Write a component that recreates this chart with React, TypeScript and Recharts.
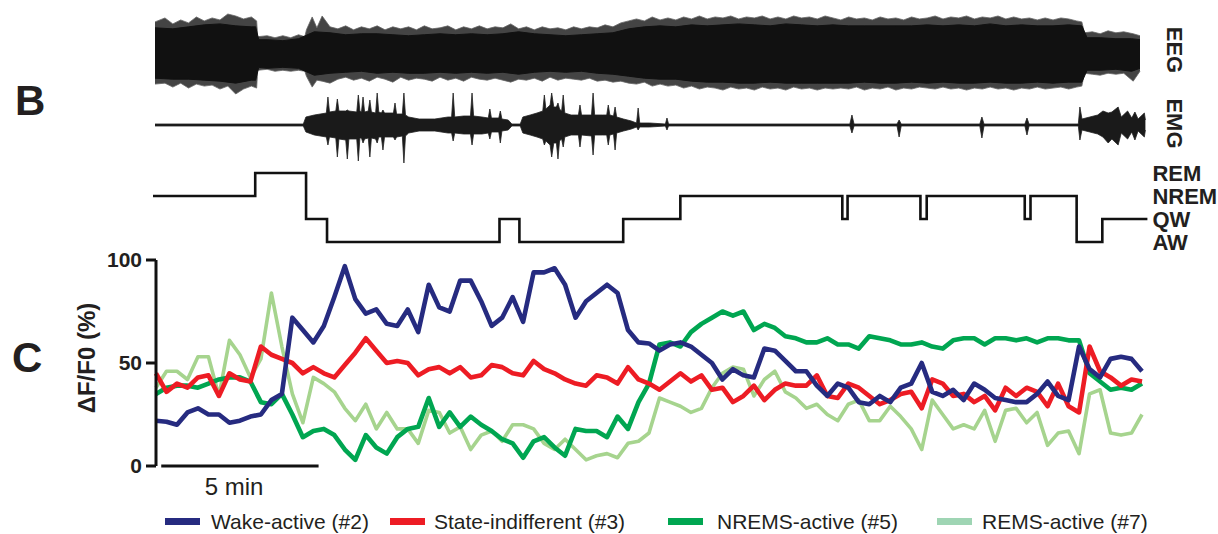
import React from 'react';
import { LineChart, ComposedChart, Line, Area, XAxis, YAxis, ReferenceLine } from 'recharts';

// ---------- DATA ----------
// Panel C: time in seconds (20 s bins), ΔF/F0 (%)
const timeSec = [
  0, 20, 40, 60, 80, 100, 120, 140, 160, 180,
  200, 220, 240, 260, 280, 300, 320, 340, 360, 380,
  400, 420, 440, 460, 480, 500, 520, 540, 560, 580,
  600, 620, 640, 660, 680, 700, 720, 740, 760, 780,
  800, 820, 840, 860, 880, 900, 920, 940, 960, 980,
  1000, 1020, 1040, 1060, 1080, 1100, 1120, 1140, 1160, 1180,
  1200, 1220, 1240, 1260, 1280, 1300, 1320, 1340, 1360, 1380,
  1400, 1420, 1440, 1460, 1480, 1500, 1520, 1540, 1560, 1580,
  1600, 1620, 1640, 1660, 1680, 1700, 1720, 1740, 1760, 1780,
  1800, 1820, 1840, 1860, 1880,
];
const wakeActive = [
  22, 21.5, 20, 26, 28, 25, 25, 21, 22, 24,
  25, 32, 35, 72, 66, 60, 68, 82, 97, 81,
  74, 76, 69, 68, 76, 65, 88, 77, 75, 90,
  90, 80, 68, 72, 82, 70, 94, 94, 96, 88,
  72, 80, 84, 88, 84, 66, 60, 59.5, 56, 59,
  60, 58, 54, 50, 42, 47, 44, 43, 57, 56,
  51, 46, 46, 39, 34, 40, 38, 31, 30, 34,
  31, 38, 40, 50, 36, 34, 37, 32, 40, 37,
  33, 32, 31, 31, 35, 41, 34, 32, 58, 47,
  43, 52, 53, 52, 46,
];
const stateIndifferent = [
  45, 36, 40, 38, 43, 44, 34, 45, 42, 41,
  58, 54, 52, 50, 45, 48, 45, 43, 49, 55,
  62, 56, 50, 51, 50, 44, 47, 48, 45, 48,
  43, 44, 49, 48, 45, 44, 51, 47, 45, 42,
  40, 39, 44, 43, 40, 48, 42, 40, 37, 41,
  45, 41, 44, 37, 38, 31, 34, 39, 32, 37,
  40, 39, 39, 44, 34, 33, 40, 38, 34, 30,
  32, 35, 36, 28, 42, 40, 34, 35, 31, 34,
  27, 38, 34, 38, 36, 29, 40, 29, 26, 58,
  46, 43, 39, 42, 41,
];
const nremsActive = [
  35, 38, 39, 39, 38, 40, 42, 43, 43, 41,
  31, 30, 35, 25, 14, 17, 18, 15, 8, 3,
  15, 9, 6, 14, 18, 19, 33, 19, 26, 19,
  24, 20, 17, 13, 11, 4, 12, 14, 9, 5,
  18, 17, 17, 14, 24, 18, 31, 40, 59, 60,
  58, 65, 69, 72, 75, 73, 75, 66, 69, 67,
  63, 62, 60, 60, 62, 59, 59, 57, 63, 62,
  61, 59, 59, 60, 58, 57, 61, 62, 62, 59,
  62, 62, 61, 62, 60, 62, 62, 61, 61, 45,
  41, 37, 38, 37, 40,
];
const remsActive = [
  38, 46, 46, 42, 53, 53, 34, 61, 54, 43,
  52, 84, 58, 35, 21, 43, 40, 36, 28, 22,
  30, 18, 26, 18, 18, 11, 27, 26, 16, 19,
  8, 15, 17, 12, 20, 20, 18, 11, 8, 13,
  8, 3, 5, 6, 4, 11, 12, 16, 33, 31,
  29, 26, 28, 38, 45, 48, 47, 34, 42, 46,
  36, 33, 28, 30, 25, 22, 30, 32, 22, 22,
  29, 24, 18, 8, 32, 25, 18, 20, 18, 27,
  12, 27, 28, 21, 26, 10, 16, 17, 6, 35,
  37, 16, 15, 16, 25,
];
const yTicks = [0, 50, 100];
const scaleBarSec = [10, 310];
const scaleBarLabel = '5 min';

const seriesKeys = ['rems', 'nrems', 'indiff', 'wake'];
const seriesNames = ['Wake-active (#2)', 'State-indifferent (#3)', 'NREMS-active (#5)', 'REMS-active (#7)'];
const seriesNameByKey: Record<string, string> = {
  wake: 'Wake-active (#2)',
  indiff: 'State-indifferent (#3)',
  nrems: 'NREMS-active (#5)',
  rems: 'REMS-active (#7)',
};

// Panel B: EEG dense core envelope (arbitrary units)
const eegTime = [
  -4, 30, 60, 90, 120, 150, 180, 188, 194, 210, 240, 270, 300, 330, 360, 390, 420, 450, 480, 510,
  540, 570, 600, 630, 660, 690, 720, 750, 780, 810, 840, 870, 900, 930, 960, 990, 1020, 1050, 1080, 1110,
  1140, 1170, 1200, 1230, 1260, 1290, 1320, 1350, 1380, 1410, 1440, 1470, 1500, 1530, 1560, 1590, 1620, 1650, 1680, 1710,
  1740, 1765, 1775, 1800, 1830, 1860, 1876,
];
const eegHigh = [
  26, 25, 27, 29, 30, 28, 27, 27, 14, 14, 13, 15, 22, 21, 19, 20, 20, 19, 18, 19,
  20, 19, 20, 19, 20, 22, 20, 19, 18, 19, 20, 21, 25, 27, 28, 27, 29, 28, 29, 30,
  29, 28, 30, 29, 28, 29, 28, 28, 28, 28, 28, 29, 28, 29, 28, 30, 28, 29, 28, 28,
  29, 28, 16, 16, 15, 15, 14,
];
const eegLow = [
  -25, -26, -26, -27, -28, -30, -27, -27, -14, -15, -14, -15, -22, -20, -19, -18, -20, -19, -20, -20,
  -19, -20, -19, -20, -19, -21, -19, -18, -19, -18, -20, -21, -23, -25, -26, -26, -28, -29, -29, -30,
  -30, -29, -30, -30, -30, -30, -30, -29, -30, -30, -29, -30, -29, -30, -30, -29, -30, -30, -29, -30,
  -29, -29, -17, -17, -16, -18, -15,
];
// Panel B: EEG spike extent (arbitrary units)
const eegSpikeTime = [
  -4, 15, 30, 45, 60, 75, 90, 105, 120, 135, 150, 165, 180, 190, 192, 210, 225, 240, 255, 270,
  282, 285, 296, 305, 315, 330, 345, 360, 375, 390, 405, 420, 435, 450, 465, 480, 495, 510, 525, 540,
  555, 570, 585, 600, 615, 630, 645, 660, 675, 690, 705, 720, 735, 750, 765, 780, 795, 810, 825, 840,
  855, 870, 885, 900, 915, 930, 945, 960, 975, 990, 1005, 1020, 1035, 1050, 1065, 1080, 1095, 1110, 1125, 1140,
  1155, 1170, 1185, 1200, 1215, 1230, 1245, 1260, 1275, 1290, 1305, 1320, 1335, 1350, 1365, 1380, 1395, 1410, 1425, 1440,
  1455, 1470, 1485, 1500, 1515, 1530, 1545, 1560, 1575, 1590, 1605, 1620, 1635, 1650, 1665, 1680, 1695, 1710, 1725, 1740,
  1755, 1765, 1770, 1785, 1800, 1815, 1830, 1845, 1863, 1876,
];
const eegSpikeHigh = [
  32, 36, 30, 34, 31, 37, 33, 36, 34, 40, 38, 35, 37, 33, 17, 18, 16, 18, 16, 19,
  17, 24, 37, 26, 38, 27, 25, 28, 24, 27, 25, 28, 24, 27, 25, 27, 24, 28, 25, 26,
  28, 24, 27, 25, 28, 25, 27, 26, 30, 25, 27, 24, 27, 25, 26, 24, 27, 25, 27, 26,
  29, 27, 31, 33, 35, 33, 37, 34, 36, 34, 37, 35, 38, 35, 37, 36, 38, 35, 37, 36,
  38, 35, 37, 35, 38, 36, 37, 35, 38, 36, 34, 37, 35, 36, 34, 37, 35, 36, 34, 37,
  35, 36, 38, 35, 37, 36, 38, 35, 37, 36, 38, 35, 37, 35, 36, 34, 36, 34, 36, 35,
  33, 32, 21, 22, 20, 23, 21, 22, 20, 18,
];
const eegSpikeLow = [
  -31, -30, -34, -30, -35, -31, -33, -32, -36, -33, -41, -36, -33, -35, -17, -16, -18, -17, -18, -17,
  -18, -23, -34, -27, -28, -30, -26, -24, -27, -25, -28, -24, -26, -29, -24, -27, -25, -26, -28, -24,
  -27, -25, -28, -24, -26, -27, -25, -27, -29, -26, -27, -25, -28, -24, -27, -25, -26, -27, -25, -28,
  -27, -29, -28, -30, -31, -29, -33, -31, -33, -32, -35, -33, -36, -34, -35, -37, -34, -36, -35, -37,
  -34, -36, -35, -37, -34, -36, -35, -37, -35, -36, -35, -36, -34, -37, -35, -36, -34, -37, -35, -36,
  -34, -35, -36, -34, -36, -35, -37, -35, -36, -34, -36, -35, -37, -35, -36, -34, -36, -35, -34, -36,
  -34, -33, -20, -21, -22, -20, -21, -20, -28, -18,
];

// Panel B: EMG envelope (arbitrary units)
const emgTime = [
  -4, 279, 284, 300, 323, 326, 329, 341, 344, 347, 360, 363, 366, 381, 384, 387, 390, 393, 396, 403,
  406, 409, 417, 420, 423, 428, 431, 434, 451, 454, 457, 468, 471, 474, 480, 500, 530, 555, 562, 565,
  568, 585, 598, 601, 604, 620, 632, 635, 638, 652, 655, 658, 670, 677, 693, 698, 712, 725, 736, 739,
  742, 750, 753, 757, 762, 765, 768, 772, 775, 778, 790, 804, 807, 810, 829, 832, 835, 850, 858, 861,
  864, 871, 874, 877, 890, 905, 915, 918, 921, 940, 970, 973, 976, 990, 1322, 1326, 1330, 1412, 1416, 1420,
  1570, 1574, 1578, 1656, 1660, 1664, 1758, 1761, 1765, 1780, 1795, 1805, 1815, 1822, 1834, 1840, 1852, 1860, 1866, 1872,
  1884, 1886,
];
const emgHigh = [
  1, 1, 8, 10, 12, 28, 13, 14, 26, 14, 14, 15, 14, 13, 30, 14, 13, 28, 13, 14,
  25, 13, 12, 32, 13, 12, 15, 12, 12, 22, 11, 11, 32, 10, 8, 6, 6, 8, 8, 32,
  8, 9, 9, 32, 9, 8, 7, 16, 7, 7, 14, 6, 5, 1, 1, 8, 10, 12, 14, 30,
  16, 20, 32, 18, 18, 22, 16, 14, 30, 12, 10, 10, 20, 10, 10, 32, 10, 10, 10, 20,
  10, 9, 18, 8, 6, 4, 2, 17, 2, 2, 1, 7, 1, 1, 1, 10, 1, 1, 5, 1,
  1, 8, 1, 1, 7, 1, 1, 18, 6, 8, 10, 14, 12, 13, 18, 8, 14, 7, 13, 6,
  12, 5,
];
const emgLow = [
  -1, -1, -7, -10, -12, -20, -12, -13, -32, -14, -15, -34, -14, -14, -36, -13, -13, -18, -14, -13,
  -32, -13, -14, -18, -12, -12, -25, -12, -12, -15, -12, -11, -38, -11, -8, -6, -6, -8, -8, -16,
  -8, -9, -9, -20, -9, -9, -8, -14, -7, -7, -18, -6, -5, -1, -1, -8, -10, -12, -14, -20,
  -16, -20, -32, -18, -18, -34, -16, -14, -22, -12, -10, -10, -22, -10, -11, -30, -10, -10, -10, -20,
  -10, -9, -25, -8, -6, -4, -2, -5, -2, -2, -1, -5, -1, -1, -1, -8, -1, -1, -12, -1,
  -1, -13, -1, -1, -10, -1, -1, -15, -5, -7, -9, -12, -18, -14, -20, -8, -14, -7, -15, -6,
  -12, -5,
];

// Hypnogram: 0 = AW, 1 = QW, 2 = NREM, 3 = REM
const hypTime = [-8, 187, 284, 324, 653, 691, 889, 998, 1307, 1317, 1456, 1468, 1655, 1666, 1754, 1803, 1889];
const hypState = [2, 3, 1, 0, 1, 0, 1, 2, 1, 2, 1, 2, 1, 2, 0, 1, 1];
const stateLabels = ['AW', 'QW', 'NREM', 'REM'];

// ---------- STYLE / LAYOUT ----------
const FONT = '"Liberation Sans", Arial, Helvetica, sans-serif';
const INK = '#231f20';
const colors: Record<string, string> = {
  wake: '#262b80',
  indiff: '#ed1c24',
  nrems: '#00a651',
  rems: '#a6d48e',
};
const legendColors = ['#262b80', '#ed1c24', '#00a651', '#9fd5b4'];
const legendSwatchX = [165, 390, 668, 937];
const legendTextX = [211, 434, 717, 982];
const W = 1218;
const H = 534;

const mainData = timeSec.map((t, i) => ({
  t,
  wake: wakeActive[i],
  indiff: stateIndifferent[i],
  nrems: nremsActive[i],
  rems: remsActive[i],
}));
const eegCoreData = eegTime.map((t, i) => ({ t, core: [eegLow[i], eegHigh[i]] }));
const eegSpikeData = eegSpikeTime.map((t, i) => ({ t, spike: [eegSpikeLow[i], eegSpikeHigh[i]] }));
const emgData = emgTime.map((t, i) => ({ t, v: [emgLow[i], emgHigh[i]] }));
const hypData = hypTime.map((t, i) => ({ t, s: hypState[i] }));

const layer: React.CSSProperties = { position: 'absolute', left: 0, top: 0 };

export default function App() {
  return (
    <div style={{ position: 'absolute', left: 0, top: 0, width: W, height: H, background: '#fff', fontFamily: FONT }}>
      {/* EEG */}
      <div style={layer}>
        <ComposedChart width={W} height={H} margin={{ top: 14, bottom: H - 94, left: 155, right: 78 }}>
          <XAxis dataKey="t" type="number" domain={[-4, 1876]} hide />
          <YAxis type="number" domain={[-40, 40]} hide />
          <Area data={eegSpikeData} type="linear" dataKey="spike" stroke="#666" strokeWidth={0.8} fill="#444" fillOpacity={1} dot={false} activeDot={false} isAnimationActive={false} />
          <Area data={eegCoreData} type="linear" dataKey="core" stroke="#111" strokeWidth={1} fill="#111" fillOpacity={1} dot={false} activeDot={false} isAnimationActive={false} />
        </ComposedChart>
      </div>
      {/* EMG */}
      <div style={layer}>
        <ComposedChart width={W} height={H} data={emgData} margin={{ top: 85, bottom: H - 165, left: 155, right: 72.6 }}>
          <XAxis dataKey="t" type="number" domain={[-4, 1886]} hide />
          <YAxis type="number" domain={[-40, 40]} hide />
          <Area type="linear" dataKey="v" stroke="#222" strokeWidth={0.8} fill="#1a1a1a" fillOpacity={1} dot={false} activeDot={false} isAnimationActive={false} />
        </ComposedChart>
      </div>
      {/* Hypnogram */}
      <div style={layer}>
        <LineChart width={W} height={H} data={hypData} margin={{ top: 173, bottom: H - 242, left: 153, right: 0.6 }}>
          <XAxis dataKey="t" type="number" domain={[-8, 1889]} hide />
          <YAxis
            orientation="right"
            type="number"
            domain={[0, 3]}
            ticks={[0, 1, 2, 3]}
            interval={0}
            width={70}
            axisLine={false}
            tickLine={false}
            tickSize={0}
            tickMargin={5}
            tickFormatter={(v: number) => stateLabels[v]}
            tick={{ fontSize: 22, fontWeight: 700, fill: INK, fontFamily: FONT }}
          />
          <Line type="stepAfter" dataKey="s" stroke="#111" strokeWidth={2.6} dot={false} activeDot={false} isAnimationActive={false} />
        </LineChart>
      </div>
      {/* Panel C */}
      <div style={layer}>
        <LineChart width={W} height={H} data={mainData} margin={{ top: 260, bottom: H - 466, left: 96, right: 76 }}>
          <XAxis dataKey="t" type="number" domain={[0, 1880]} hide />
          <YAxis
            type="number"
            domain={[0, 100]}
            ticks={yTicks}
            interval={0}
            width={60}
            axisLine={{ stroke: '#111', strokeWidth: 3 }}
            tickLine={{ stroke: '#111', strokeWidth: 3 }}
            tickSize={10}
            tickMargin={4}
            tick={{ fontSize: 21, fontWeight: 700, fill: INK, fontFamily: FONT }}
          />
          <ReferenceLine
            segment={[{ x: scaleBarSec[0], y: 0 }, { x: scaleBarSec[1], y: 0 }]}
            stroke="#111"
            strokeWidth={3}
            ifOverflow="visible"
          />
          {seriesKeys.map((k) => (
            <Line
              key={k}
              type="linear"
              dataKey={k}
              name={seriesNameByKey[k]}
              stroke={colors[k]}
              strokeWidth={k === 'rems' ? 3.6 : 4.6}
              strokeLinejoin="round"
              dot={false}
              activeDot={false}
              isAnimationActive={false}
            />
          ))}
        </LineChart>
      </div>
      {/* Text overlay */}
      <svg width={W} height={H} style={{ ...layer, pointerEvents: 'none' }}>
        <g fontFamily={FONT} fill={INK}>
          <text x={15} y={115} fontSize={42} fontWeight={700}>B</text>
          <text x={12} y={372} fontSize={42} fontWeight={700}>C</text>
          <text x={86} y={358} fontSize={24} fontWeight={700} textAnchor="middle" dominantBaseline="central" transform="rotate(-90 86 358)">ΔF/F0 (%)</text>
          <text x={1174} y={50} fontSize={22} fontWeight={700} textAnchor="middle" dominantBaseline="central" transform="rotate(90 1174 50)">EEG</text>
          <text x={1174} y={123.5} fontSize={22} fontWeight={700} textAnchor="middle" dominantBaseline="central" transform="rotate(90 1174 123.5)">EMG</text>
          <text x={234} y={495} fontSize={24} textAnchor="middle">{scaleBarLabel}</text>
          {seriesNames.map((n, i) => (
            <g key={n}>
              <rect x={legendSwatchX[i]} y={518} width={35} height={7} fill={legendColors[i]} />
              <text x={legendTextX[i]} y={529} fontSize={21}>{n}</text>
            </g>
          ))}
        </g>
      </svg>
    </div>
  );
}
